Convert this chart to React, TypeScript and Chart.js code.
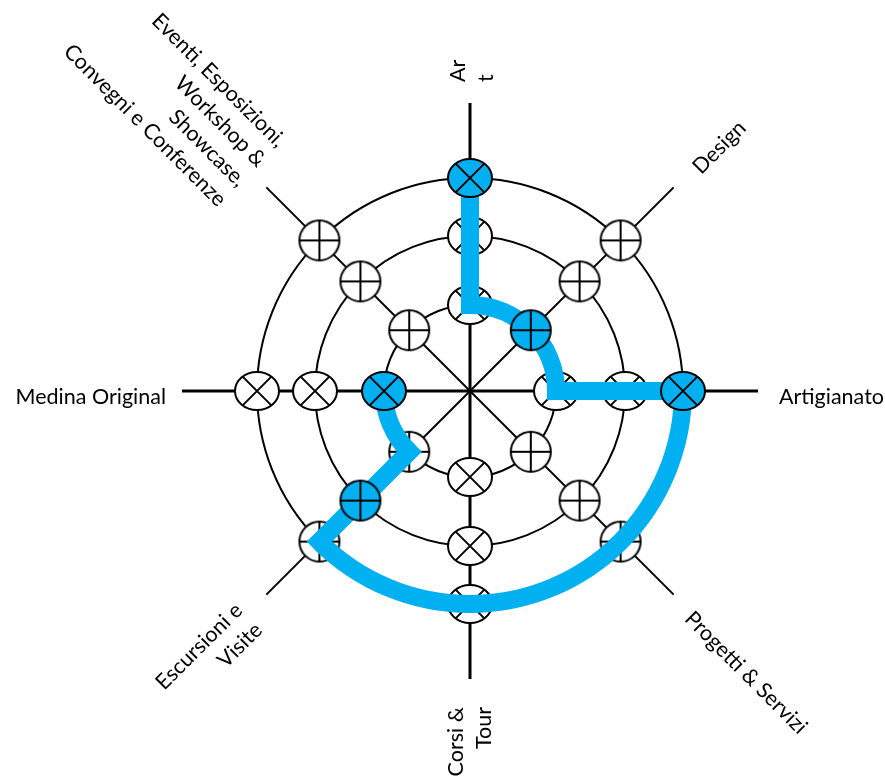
import React, { useEffect, useRef } from 'react';
import { Chart, registerables } from 'chart.js';

Chart.register(...registerables);

// ---- data ----
const categories = [
  'Art',
  'Design',
  'Artigianato',
  'Progetti & Servizi',
  'Corsi & Tour',
  'Escursioni e Visite',
  'Medina Original',
  'Eventi, Esposizioni, Workshop & Showcase, Convegni e Conferenze',
];

// how each category label is broken into lines in the picture
const labelLines = [
  ['Ar', 't'],
  ['Design'],
  ['Artigianato'],
  ['Progetti & Servizi'],
  ['Corsi &', 'Tour'],
  ['Escursioni e', 'Visite'],
  ['Medina Original'],
  ['Eventi, Esposizioni,', 'Workshop &', 'Showcase,', 'Convegni e Conferenze'],
];

const axisLength = 288;              // length of each spoke (radial units)
const ringLevels = [86, 155, 213];   // inner, middle, outer ring
const markerSymbols = ['x', '+', 'x', '+', 'x', '+', 'x', '+'];

// [category index, ring index] of the blue (highlighted) markers
const highlightedStops: [number, number][] = [
  [0, 2],
  [1, 0],
  [2, 2],
  [5, 1],
  [6, 0],
];

// the blue route: legs along a spoke (same category) or along a ring (same ring)
const routeLegs: [number, number][][] = [
  [[0, 2], [0, 0]],
  [[0, 0], [1, 0], [2, 0]],
  [[2, 0], [2, 2]],
  [[2, 2], [3, 2], [4, 2], [5, 2]],
  [[5, 2], [5, 1], [5, 0]],
  [[5, 0], [6, 0]],
];

// ---- styles ----
const BLUE = '#00B0F0';
const ROUTE_WIDTH = 18;
const FONT = '21.5px Lato';
const LINE_H = 28;

// rot: text rotation (deg); a: offset along the text direction from the spoke end;
// b: offset of the first baseline across the text direction
const labelLayout: { rot: number; align: CanvasTextAlign; a: number; b: number }[] = [
  { rot: -90, align: 'left', a: 21, b: -5 },
  { rot: -45, align: 'left', a: 28, b: 11 },
  { rot: 0, align: 'left', a: 21, b: 13 },
  { rot: 45, align: 'left', a: 25, b: 11 },
  { rot: -90, align: 'right', a: -28, b: -7 },
  { rot: -45, align: 'right', a: -28, b: -4 },
  { rot: 0, align: 'right', a: -16, b: 13 },
  { rot: 45, align: 'right', a: -20, b: -35 },
];

function makeMarker(kind: string, fill: string): HTMLCanvasElement {
  const ell = kind === 'x';
  const rx = ell ? 22 : 20;
  const ry = ell ? 19 : 20;
  const w = 2 * rx + 4;
  const h = 2 * ry + 4;
  const c = document.createElement('canvas');
  c.width = w;
  c.height = h;
  const g = c.getContext('2d')!;
  g.translate(w / 2, h / 2);
  g.beginPath();
  g.ellipse(0, 0, rx, ry, 0, 0, Math.PI * 2);
  g.fillStyle = fill;
  g.fill();
  g.lineWidth = 2;
  g.strokeStyle = '#000';
  g.beginPath();
  if (ell) {
    const d = 1 / Math.sqrt(1 / (rx * rx) + 1 / (ry * ry));
    g.moveTo(-d, -d);
    g.lineTo(d, d);
    g.moveTo(-d, d);
    g.lineTo(d, -d);
  } else {
    g.moveTo(-rx, 0);
    g.lineTo(rx, 0);
    g.moveTo(0, -ry);
    g.lineTo(0, ry);
  }
  g.stroke();
  g.beginPath();
  g.ellipse(0, 0, rx, ry, 0, 0, Math.PI * 2);
  g.stroke();
  return c;
}

const labelPlugin = {
  id: 'rotatedLabels',
  afterDraw(chart: any) {
    const r = chart.scales.r;
    const ctx = chart.ctx as CanvasRenderingContext2D;
    ctx.save();
    ctx.font = FONT;
    ctx.fillStyle = '#000';
    ctx.textBaseline = 'alphabetic';
    labelLines.forEach((lines, i) => {
      const end = r.getPointPositionForValue(i, axisLength);
      const L = labelLayout[i];
      const th = (L.rot * Math.PI) / 180;
      const ux = Math.cos(th), uy = Math.sin(th);
      const dx = -Math.sin(th), dy = Math.cos(th);
      const ax = end.x + L.a * ux + L.b * dx;
      const ay = end.y + L.a * uy + L.b * dy;
      ctx.save();
      ctx.translate(ax, ay);
      ctx.rotate(th);
      ctx.textAlign = L.align;
      lines.forEach((t, k) => ctx.fillText(t, 0, k * LINE_H));
      ctx.restore();
    });
    ctx.restore();
  },
};

export default function App() {
  const ref = useRef<HTMLCanvasElement>(null);

  useEffect(() => {
    const canvas = ref.current;
    if (!canvas) return;
    const n = categories.length;
    const toXY = ([c, k]: [number, number]) => {
      const ang = (c * 2 * Math.PI) / n;
      const v = ringLevels[k];
      return { x: v * Math.sin(ang), y: v * Math.cos(ang) };
    };
    const imgs: Record<string, { plain: HTMLCanvasElement; hi: HTMLCanvasElement }> = {
      x: { plain: makeMarker('x', '#ffffff'), hi: makeMarker('x', BLUE) },
      '+': { plain: makeMarker('+', '#ffffff'), hi: makeMarker('+', BLUE) },
    };
    const isHi = (c: number, k: number) => highlightedStops.some(([hc, hk]) => hc === c && hk === k);
    const markerSet = (k: number, hi: boolean) => ({
      type: 'radar' as const,
      indexAxis: 'r',
      data: categories.map((_, c) => (isHi(c, k) === hi ? ringLevels[k] : null)),
      showLine: false,
      fill: false,
      borderWidth: 0,
      pointRadius: 20,
      pointHoverRadius: 20,
      pointStyle: categories.map((_, c) => imgs[markerSymbols[c]][hi ? 'hi' : 'plain']),
    });

    const routeBase = {
      type: 'scatter',
      indexAxis: 'x',
      showLine: true,
      fill: false,
      borderColor: BLUE,
      backgroundColor: BLUE,
      borderWidth: ROUTE_WIDTH,
      borderJoinStyle: 'miter',
      pointRadius: 0,
      pointHoverRadius: 0,
      xAxisID: 'x',
      yAxisID: 'y',
    };

    // legs along a spoke: straight lines
    const isRadial = (leg: [number, number][]) => leg.every(([c]) => c === leg[0][0]);
    const radialSets = routeLegs.filter(isRadial).map((leg) => ({
      ...routeBase,
      data: leg.map(toXY),
      tension: 0,
      borderCapStyle: 'square',
    }));

    // legs along a ring: drawn on the ring's own closed curve, only travelled parts shown
    const pairKey = (a: number, b: number) => (a < b ? `${a}-${b}` : `${b}-${a}`);
    const cyc = [n - 1, ...categories.map((_, c) => c), 0];
    const ringSets = ringLevels
      .map((_, k) => {
        const pairs = new Set<string>();
        routeLegs
          .filter((leg) => !isRadial(leg) && leg[0][1] === k)
          .forEach((leg) => leg.slice(1).forEach((s, j) => pairs.add(pairKey(leg[j][0], s[0]))));
        if (!pairs.size) return null;
        return {
          ...routeBase,
          data: cyc.map((c) => toXY([c, k])),
          tension: 0.375,
          borderCapStyle: 'butt',
          segment: {
            borderColor: (ctx: any) =>
              pairs.has(pairKey(cyc[ctx.p0DataIndex], cyc[ctx.p1DataIndex])) ? BLUE : 'rgba(0,0,0,0)',
          },
        };
      })
      .filter(Boolean);

    const chart = new Chart(canvas, {
      type: 'radar',
      data: {
        labels: categories,
        datasets: [
          markerSet(0, true),
          markerSet(1, true),
          markerSet(2, true),
          ...radialSets,
          ...ringSets,
          markerSet(0, false),
          markerSet(1, false),
          markerSet(2, false),
        ] as any,
      },
      options: {
        responsive: false,
        animation: false,
        events: [],
        layout: { padding: { left: 182, top: 103, right: 127, bottom: 98 } },
        plugins: { legend: { display: false }, tooltip: { enabled: false } },
        scales: {
          r: {
            min: 0,
            max: axisLength,
            startAngle: 0,
            ticks: { display: false },
            pointLabels: { display: false },
            grid: { circular: true, color: '#000', lineWidth: 2 },
            angleLines: {
              color: '#000',
              lineWidth: (ctx: any) => (ctx.index % 2 === 0 ? 3 : 2),
            },
            afterBuildTicks: (scale: any) => {
              scale.ticks = [0, ...ringLevels].map((value) => ({ value }));
            },
          },
          x: { type: 'linear', axis: 'x', position: 'bottom', display: false, min: -axisLength, max: axisLength },
          y: { type: 'linear', axis: 'y', position: 'left', display: false, min: -axisLength, max: axisLength },
        } as any,
      },
      plugins: [labelPlugin],
    });
    return () => chart.destroy();
  }, []);

  return (
    <div style={{ position: 'absolute', left: 0, top: 0, width: 885, height: 777, background: '#fff' }}>
      <canvas ref={ref} width={885} height={777} style={{ display: 'block' }} />
    </div>
  );
}
